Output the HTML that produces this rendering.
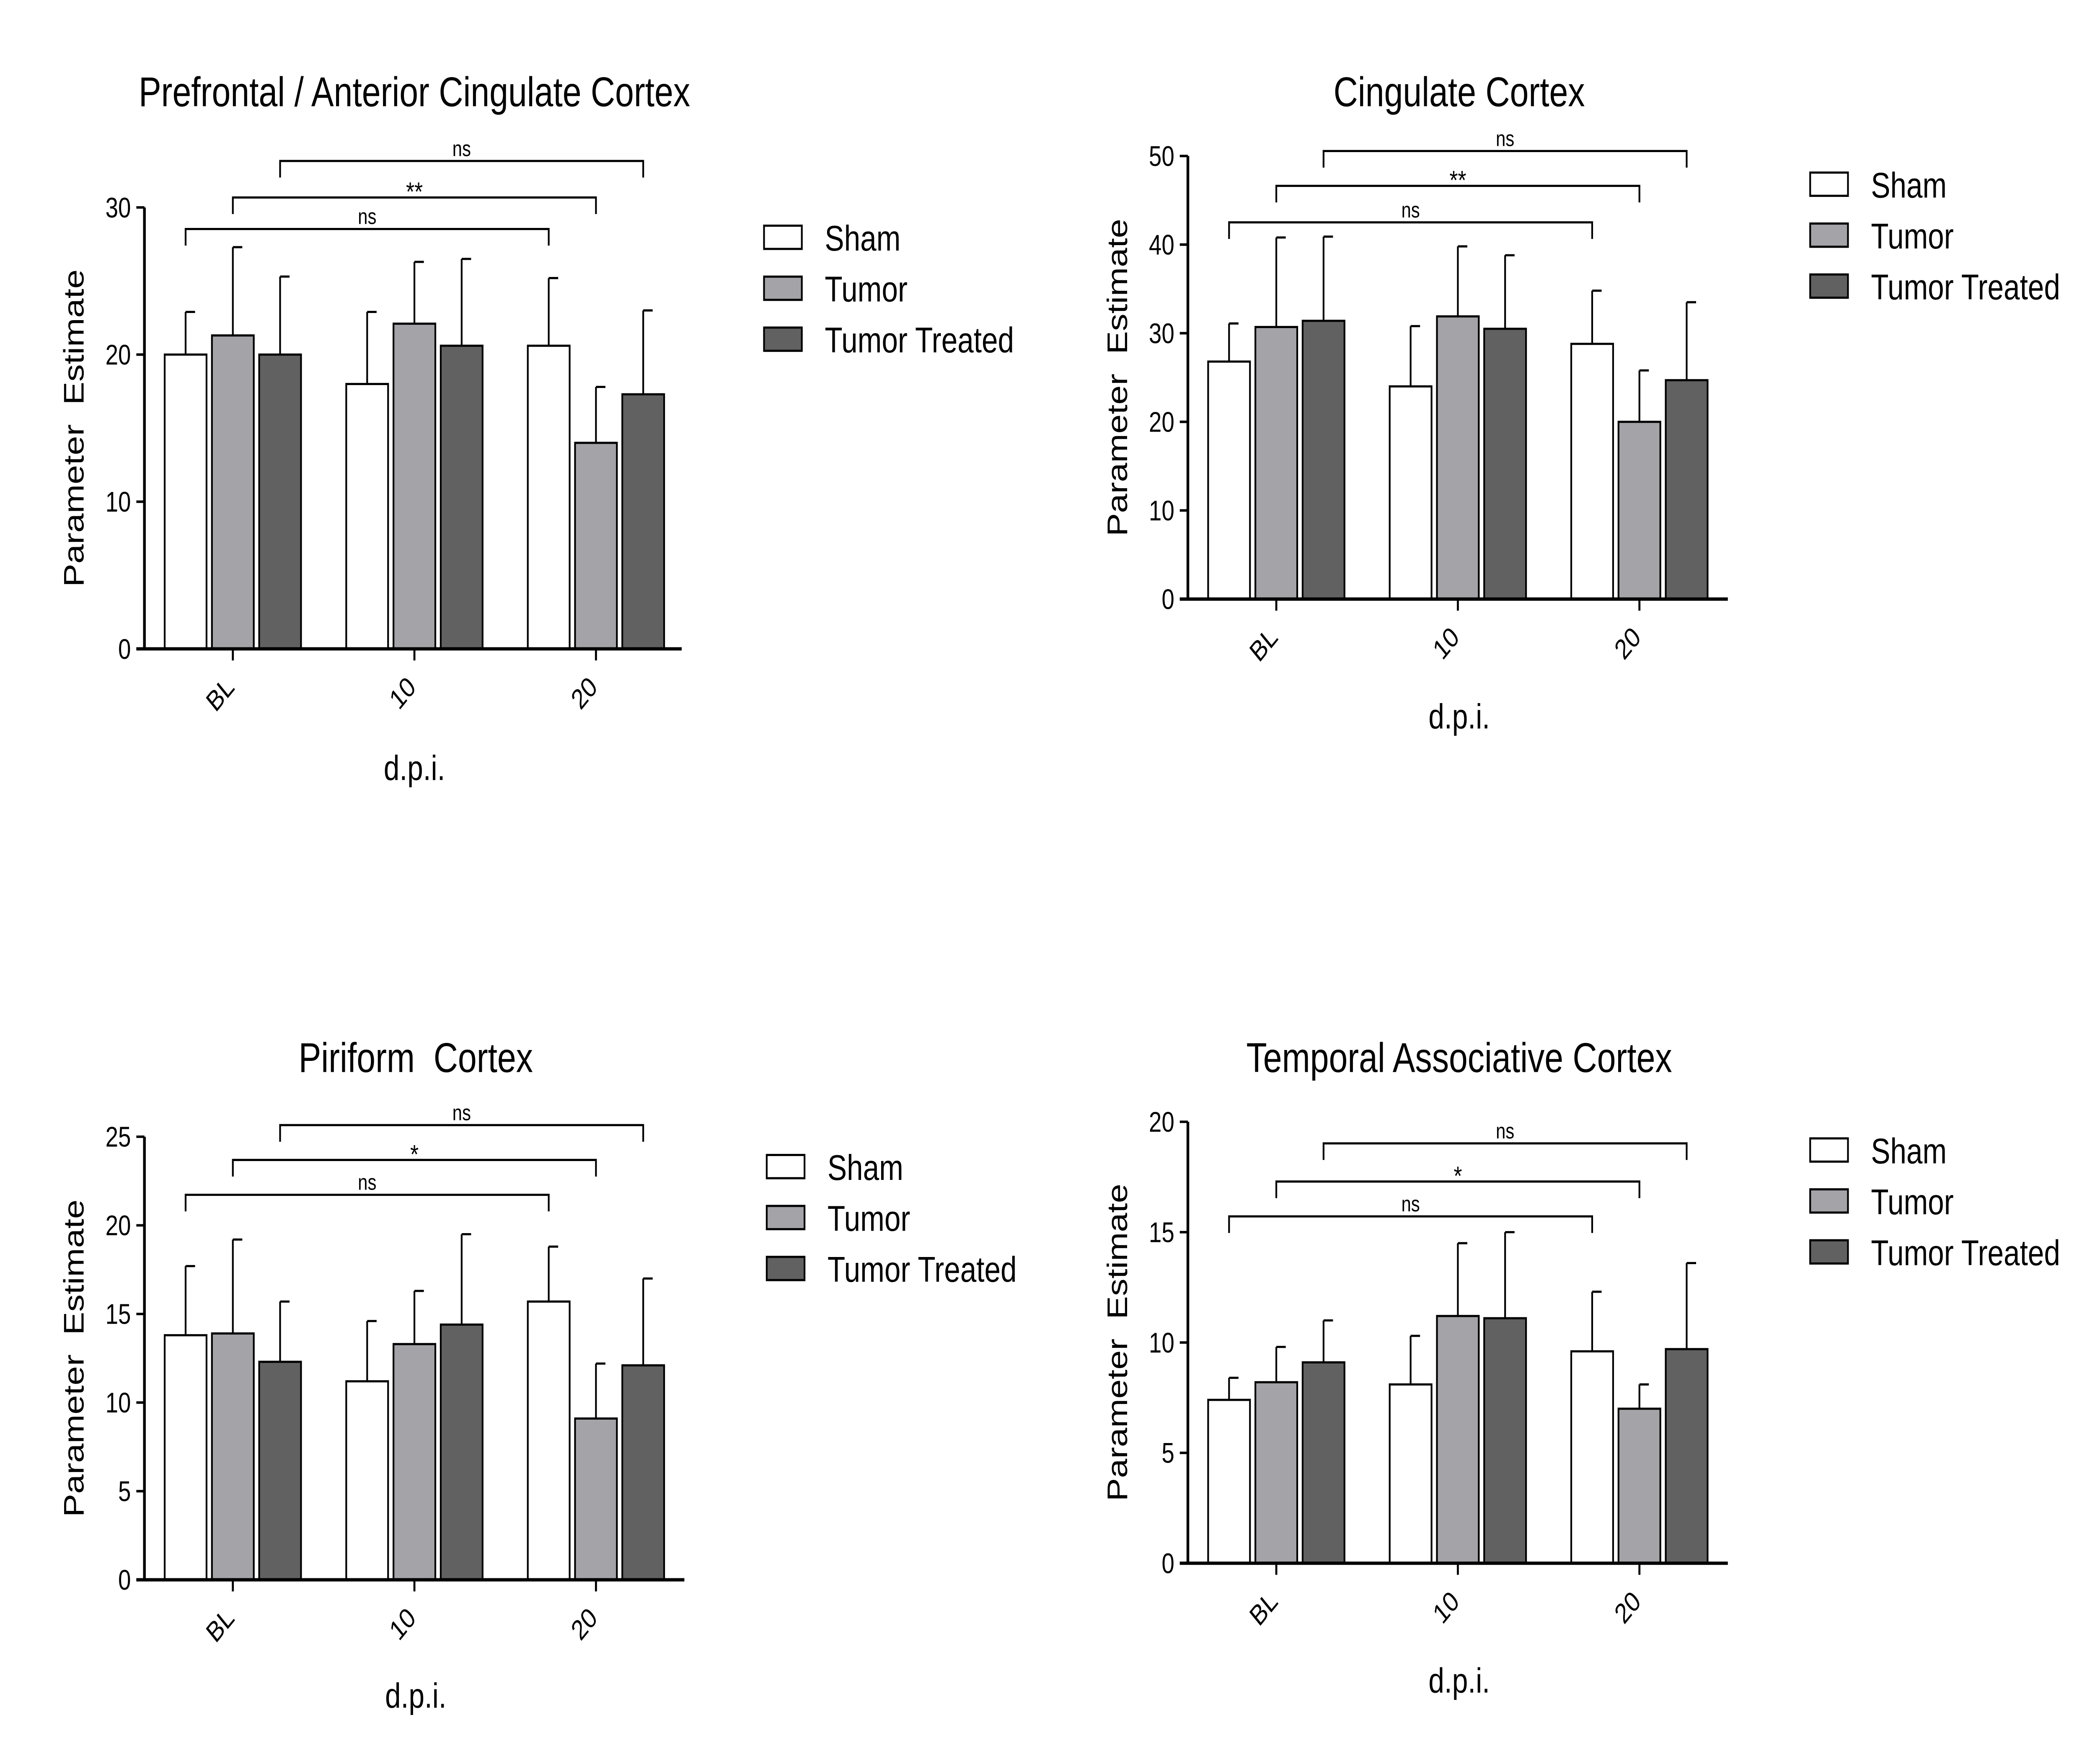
<!DOCTYPE html>
<html><head><meta charset="utf-8"><style>
html,body{margin:0;padding:0;background:#fff;width:100%;height:100%;overflow:hidden}
svg{display:block;position:absolute;left:0;top:0;width:100vw;height:100vh}
text{font-family:"Liberation Sans",Arial,sans-serif;fill:#000;white-space:pre}
</style></head><body>
<svg id="c" xmlns="http://www.w3.org/2000/svg" viewBox="0 0 1552 1063" preserveAspectRatio="none"><g id="root"></g></svg>
<script>
const categories = ["BL","10","20"];
const seriesNames = ["Sham","Tumor","Tumor Treated"];
const titles = ["Prefrontal / Anterior Cingulate Cortex","Cingulate Cortex","Piriform  Cortex","Temporal Associative Cortex"];
const yMaxes = [30,50,25,20];
const yStepsArr = [10,10,5,5];
const pfcMeans = [[20,18,20.6],[21.3,22.1,14],[20,20.6,17.3]];
const pfcTops = [[22.9,22.9,25.2],[27.3,26.3,17.8],[25.3,26.5,23]];
const cingMeans = [[26.8,24,28.8],[30.7,31.9,20],[31.4,30.5,24.7]];
const cingTops = [[31.1,30.8,34.8],[40.8,39.8,25.8],[40.9,38.8,33.5]];
const pirMeans = [[13.8,11.2,15.7],[13.9,13.3,9.1],[12.3,14.4,12.1]];
const pirTops = [[17.7,14.6,18.8],[19.2,16.3,12.2],[15.7,19.5,17]];
const tempMeans = [[7.4,8.1,9.6],[8.2,11.2,7],[9.1,11.1,9.7]];
const tempTops = [[8.4,10.3,12.3],[9.8,14.5,8.1],[11,15,13.6]];
const sigLabels = [["ns","**","ns"],["ns","**","ns"],["ns","*","ns"],["ns","*","ns"]];

const svg=document.getElementById('root');
const NS='http://www.w3.org/2000/svg';
function mk(tag,attrs,parent,txt){const e=document.createElementNS(NS,tag);for(const k in attrs)e.setAttribute(k,attrs[k]);if(txt!==undefined)e.textContent=txt;(parent||svg).appendChild(e);return e;}
const fills=["#ffffff","#a3a3a8","#616161"];
const panels=[
 {ax:107,y0:391,yTop:125,xEnd:505,means:pfcMeans,tops:pfcTops,br:[138,119,97],ytx:55,xl:463,leg:[566,136],ty:55},
 {ax:880,y0:361,yTop:94,xEnd:1280,means:cingMeans,tops:cingTops,br:[134,112,91],ytx:828,xl:432,leg:[1341,104],ty:55},
 {ax:107,y0:952,yTop:685,xEnd:507,means:pirMeans,tops:pirTops,br:[720,699,678],ytx:55,xl:1022,leg:[568,696],ty:637},
 {ax:880,y0:942,yTop:676,xEnd:1280,means:tempMeans,tops:tempTops,br:[733,712,689],ytx:828,xl:1013,leg:[1341,686],ty:637}
];
panels.forEach((p,pi)=>{
 const g=mk('g',{});
 
 
 const yMax=yMaxes[pi];
 const ys=v=>p.y0-(p.y0-p.yTop)*v/yMax;
 const bx=(ci,si)=>p.ax+15+ci*134.5+si*35;
 const cx=p.ax+(p.xEnd-p.ax)/2+1;
 const t=mk('text',{x:cx,y:p.ty+9,'text-anchor':'middle','font-size':25},g,titles[pi]);
 
 
 for(let si=0;si<3;si++)for(let ci=0;ci<3;ci++){
  const x=bx(ci,si),m=p.means[si][ci],tp=p.tops[si][ci];
  const xc=x+15.5;
  const el=mk('line',{x1:xc,x2:xc,y1:ys(m),y2:ys(tp),stroke:'#000','stroke-width':1.3},g);
  
  
  const cap=mk('line',{x1:xc,x2:xc+7,y1:ys(tp),y2:ys(tp),stroke:'#000','stroke-width':1.3},g);
  
  
  const r=mk('rect',{x:x,y:ys(m),width:31,height:p.y0-ys(m),fill:fills[si],stroke:'#000','stroke-width':1.3},g);
  
  
 }
 const ya=mk('line',{x1:p.ax,x2:p.ax,y1:p.y0,y2:p.yTop,stroke:'#000','stroke-width':2},g);
 
 
 const xa=mk('line',{x1:p.ax-6,x2:p.xEnd,y1:p.y0,y2:p.y0,stroke:'#000','stroke-width':2},g);
 
 
 for(let v=0;v<=yMax;v+=yStepsArr[pi]){
  mk('line',{x1:p.ax-6,x2:p.ax,y1:ys(v),y2:ys(v),stroke:'#000','stroke-width':1.5},g);
  const tl=mk('text',{x:p.ax-10,y:ys(v)+6,'text-anchor':'end','font-size':17},g,String(v));
  
  
 }
 categories.forEach((c,ci)=>{
  const tx=bx(ci,1)+15.5;
  mk('line',{x1:tx,x2:tx,y1:p.y0,y2:p.y0+7,stroke:'#000','stroke-width':1.5},g);
  const tl=mk('text',{x:tx+2,y:p.y0+24,'text-anchor':'end','font-size':17,transform:`rotate(-45 ${tx+2} ${p.y0+24})`},g,c);
  
  
 });
 const yt=mk('text',{x:p.ytx+7,y:(p.y0+p.yTop)/2,'text-anchor':'middle','font-size':21,transform:`rotate(-90 ${p.ytx+7} ${(p.y0+p.yTop)/2})`},g,'Parameter  Estimate');
 
 
 const xt=mk('text',{x:cx,y:p.xl+7,'text-anchor':'middle','font-size':21},g,'d.p.i.');
 
 
 const pairs=[[0,0,2,0],[0,1,2,1],[0,2,2,2]];
 pairs.forEach((pr,k)=>{
  const x1=bx(pr[0],pr[1])+15.5, x2=bx(pr[2],pr[3])+15.5, y=p.br[k];
  const b=mk('path',{d:`M${x1} ${y+10}V${y}H${x2}V${y+10}`,fill:'none',stroke:'#000','stroke-width':1.3},g);
  
  
  const lab=sigLabels[pi][k];
  const st=mk('text',{x:(x1+x2)/2,y:lab==='ns'?y-3:y+2,'text-anchor':'middle','font-size':lab==='ns'?13:16},g,lab);
  
  
 });
 seriesNames.forEach((n,si)=>{
  const ly=p.leg[1]+si*30.7;
  const lr=mk('rect',{x:p.leg[0],y:ly,width:28,height:14,fill:fills[si],stroke:'#000','stroke-width':1.3},g);
  
  
  const lt=mk('text',{x:p.leg[0]+45,y:ly+15,'font-size':21.5},g,n);
  
  
 });
});
</script>
</body></html>
